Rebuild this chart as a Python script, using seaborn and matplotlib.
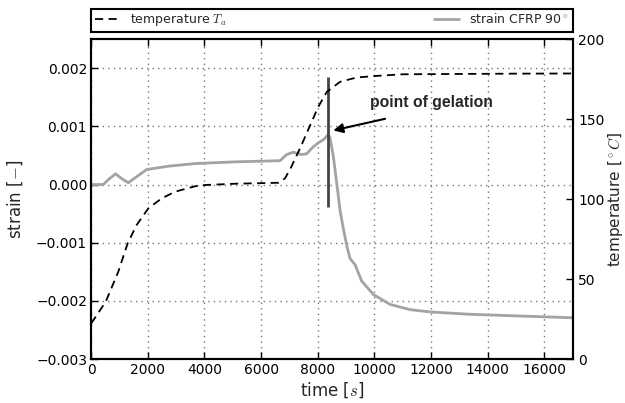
import numpy as np
import pandas as pd
import matplotlib
matplotlib.use("Agg")
import matplotlib.pyplot as plt
import seaborn as sns

# ---- data ----
temp_time = [0, 510, 955, 1285, 1600, 2015, 2485, 2960, 3665, 4020, 5080, 6620,
             6845, 7050, 7375, 7730, 8020, 8320, 8790, 9375, 10085, 11000, 13000,
             15000, 17000]
temp_vals = [22.3, 35.8, 54.6, 72.3, 83.7, 94.2, 100.4, 104.6, 108.0, 108.8, 109.6,
             110.2, 113.0, 119.5, 131.7, 146.0, 157.7, 167.0, 173.3, 176.0, 177.0,
             178.0, 178.2, 178.4, 178.5]

strain_time = [0, 425, 640, 860, 1080, 1310, 1660, 1960, 2720, 3660, 5080, 6670,
               6900, 7140, 7430, 7610, 7845, 8020, 8200, 8375, 8435, 8550, 8670,
               8790, 8910, 9030, 9140, 9320, 9555, 9965, 10555, 11260, 11970,
               13380, 15150, 17000]
strain_vals = [0.0, 0.0, 0.0001, 0.000184, 0.0001, 0.00003, 0.000155, 0.000258,
               0.000315, 0.00036, 0.00039, 0.00041, 0.000515, 0.000555, 0.000515,
               0.00053, 0.00065, 0.000716, 0.00077, 0.00086, 0.0008, 0.000487,
               0.00003, -0.00045, -0.00077, -0.00106, -0.00127, -0.00138,
               -0.00166, -0.00189, -0.00206, -0.00215, -0.00219, -0.00223,
               -0.00226, -0.00229]

gel_time = 8375
gel_line = [-0.00038, 0.00184]
arrow_tip = (8550, 0.00093)
arrow_tail = (10380, 0.00113)
text_pos = (9840, 0.00141)

x_ticks = [0, 2000, 4000, 6000, 8000, 10000, 12000, 14000, 16000]
y1_ticks = [-0.003, -0.002, -0.001, 0.0, 0.001, 0.002]
y2_ticks = [0, 50, 100, 150, 200]

legend_labels = ["temperature $T_a$", "strain CFRP 90$^\\circ$"]

# ---- style ----
sns.set_style("white")
plt.rcParams["font.family"] = ["DejaVu Sans"]
plt.rcParams["mathtext.fontset"] = "cm"

df_t = pd.DataFrame({"time": temp_time, "temp": temp_vals})
df_s = pd.DataFrame({"time": strain_time, "strain": strain_vals})

fig = plt.figure(figsize=(6.25, 4.03), dpi=100)
ax1 = fig.add_axes([0.146, 0.109, 0.77, 0.794])
ax2 = ax1.twinx()

sns.lineplot(data=df_s, x="time", y="strain", ax=ax1, color="#a3a3a3",
             linewidth=2.0, legend=False)
ax1.vlines(gel_time, gel_line[0], gel_line[1], color="#444444", linewidth=2.0)

sns.lineplot(data=df_t, x="time", y="temp", ax=ax2, color="black",
             linewidth=1.3, legend=False)
ax2.lines[0].set_linestyle((0, (4.5, 3)))

ax1.set_xlim(0, 17000)
ax1.set_ylim(-0.003, 0.0025)
ax2.set_ylim(0, 200)
ax1.set_xticks(x_ticks)
ax1.set_yticks(y1_ticks)
ax1.set_yticklabels([f"{v:.3f}".replace("-", "\u2212") for v in y1_ticks])
ax2.set_yticks(y2_ticks)

ax1.grid(True, color="#777777", linestyle=(0, (1, 3)), linewidth=1.0)
ax2.grid(False)

for ax in (ax1, ax2):
    for sp in ax.spines.values():
        sp.set_color("black")
        sp.set_linewidth(1.5)
        sp.set_visible(True)

ax1.tick_params(axis="both", direction="in", length=5, width=1, labelsize=10,
                colors="black", top=True, bottom=True, left=True, right=False, pad=3)
ax2.tick_params(axis="y", direction="in", length=5, width=1, labelsize=10,
                colors="black", right=True, left=False, pad=4)

ax1.set_xlabel("time [$s$]", fontsize=12, labelpad=2)
ax1.set_ylabel("strain [$-$]", fontsize=12, labelpad=8)
ax2.set_ylabel("temperature [$^\\circ C$]", fontsize=11, labelpad=1)

ax1.annotate("", xy=arrow_tip, xytext=arrow_tail,
             arrowprops=dict(arrowstyle="-|>", color="black", lw=1.5,
                             mutation_scale=14, shrinkA=0, shrinkB=0))
ax1.text(text_pos[0], text_pos[1], "point of gelation", fontsize=11.3,
         fontweight="bold", family="Liberation Sans", ha="left", va="center")

handles = [ax2.lines[0], ax1.lines[0]]
leg = ax1.legend(handles, legend_labels, bbox_to_anchor=(0, 1.022, 1, 0.062),
                 loc="lower left", mode="expand", ncol=2, borderaxespad=0,
                 fancybox=False, edgecolor="black", framealpha=1, fontsize=9,
                 handlelength=2, borderpad=0.3)
leg.get_frame().set_linewidth(1.5)

fig.savefig("out.png", dpi=100)
